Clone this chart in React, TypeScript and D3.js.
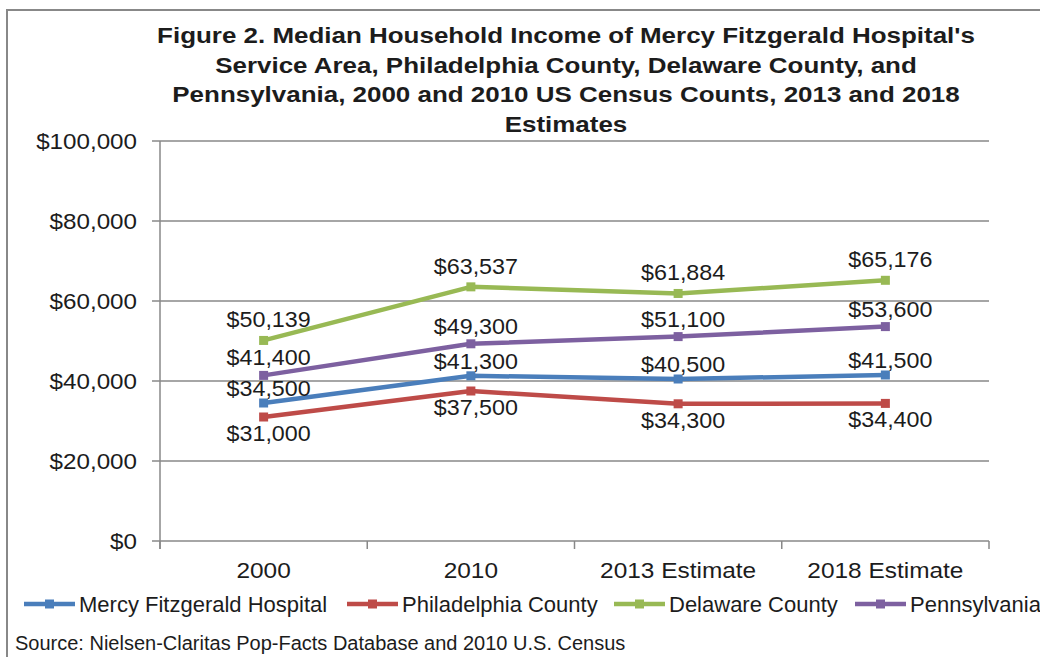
import React, { useEffect } from "react";
import * as d3 from "d3";

const categories = ["2000", "2010", "2013 Estimate", "2018 Estimate"];
const seriesNames = ["Mercy Fitzgerald Hospital", "Philadelphia County", "Delaware County", "Pennsylvania"];
const mercyValues = [34500, 41300, 40500, 41500];
const philadelphiaValues = [31000, 37500, 34300, 34400];
const delawareValues = [50139, 63537, 61884, 65176];
const pennsylvaniaValues = [41400, 49300, 51100, 53600];
const yTicks = [0, 20000, 40000, 60000, 80000, 100000];
const titleLines = [
  "Figure 2. Median Household Income of Mercy Fitzgerald Hospital's",
  "Service Area, Philadelphia County, Delaware County, and",
  "Pennsylvania, 2000 and 2010 US Census Counts, 2013 and 2018",
  "Estimates",
];
const sourceText = "Source: Nielsen-Claritas Pop-Facts Database and 2010 U.S. Census";

const W = 1040;
const H = 657;
const font = "'Liberation Sans', Arial, sans-serif";
const textColor = "#1c1c1c";
const gridColor = "#888888";

// label offsets: above the point for most, below for Philadelphia
const series = [
  { name: seriesNames[0], values: mercyValues, color: "#4a7ebb", dy: -7 },
  { name: seriesNames[1], values: philadelphiaValues, color: "#be4b48", dy: 24 },
  { name: seriesNames[2], values: delawareValues, color: "#98b954", dy: -13 },
  { name: seriesNames[3], values: pennsylvaniaValues, color: "#7d60a0", dy: -10 },
];

const legendX = [24, 347, 614, 855];

// the original export is a bit stretched sideways
const at = (x: number, y: number, sx: number) => `translate(${x},${y}) scale(${sx},1)`;

export default function App() {
  useEffect(() => {
    document.body.style.margin = "0";
  }, []);

  const x = d3.scaleBand().domain(categories).range([160, 989]).padding(0);
  const y = d3.scaleLinear().domain([0, 100000]).range([541, 141]);
  const cx = (c: string) => (x(c) as number) + x.bandwidth() / 2;
  const money = (v: number) => "$" + d3.format(",")(v);
  const line = d3
    .line<number>()
    .x((_, i) => cx(categories[i]))
    .y((v) => y(v));

  const boundaries = categories.map((c) => x(c) as number).concat([989]);

  return (
    <svg width={W} height={H} style={{ position: "fixed", left: 0, top: 0, background: "#fff" }}>
      <rect x={7} y={10} width={W + 10} height={H + 10} fill="#fff" stroke={gridColor} strokeWidth={2} />

      <g fontFamily={font} fontWeight="bold" fontSize={22} fill={textColor} textAnchor="middle">
        {titleLines.map((t, i) => (
          <text key={i} transform={at(566, 43 + i * 29.6, 1.18)}>
            {t}
          </text>
        ))}
      </g>

      {/* gridlines + y labels */}
      <g>
        {yTicks.map((t) => (
          <g key={t}>
            <line x1={152} x2={989} y1={y(t)} y2={y(t)} stroke={gridColor} strokeWidth={1.5} />
            <text
              transform={at(137, y(t) + 7.5, 1.1)}
              textAnchor="end"
              fontFamily={font}
              fontSize={22}
              fill={textColor}
            >
              {money(t)}
            </text>
          </g>
        ))}
        <line x1={160} x2={160} y1={141} y2={549} stroke={gridColor} strokeWidth={1.5} />
        {boundaries.map((b, i) => (
          <line key={i} x1={b} x2={b} y1={541} y2={549} stroke={gridColor} strokeWidth={1.5} />
        ))}
        {categories.map((c) => (
          <text
            key={c}
            transform={at(cx(c), 578, 1.11)}
            textAnchor="middle"
            fontFamily={font}
            fontSize={22}
            fill={textColor}
          >
            {c}
          </text>
        ))}
      </g>

      {/* series lines */}
      {[2, 3, 0, 1].map((k) => {
        const s = series[k];
        return (
          <g key={s.name}>
            <path d={line(s.values) || ""} fill="none" stroke={s.color} strokeWidth={4.5} strokeLinejoin="round" />
            {s.values.map((v, i) => (
              <rect key={i} x={cx(categories[i]) - 4.5} y={y(v) - 4.5} width={9} height={9} fill={s.color} />
            ))}
          </g>
        );
      })}

      {/* data labels */}
      {series.map((s) => (
        <g key={s.name + "-lbl"}>
          {s.values.map((v, i) => (
            <text
              key={i}
              transform={at(cx(categories[i]) + 5, y(v) + s.dy, 1.06)}
              textAnchor="middle"
              fontFamily={font}
              fontSize={22}
              fill={textColor}
            >
              {money(v)}
            </text>
          ))}
        </g>
      ))}

      {/* legend */}
      {series.map((s, i) => (
        <g key={s.name + "-leg"}>
          <line x1={legendX[i]} x2={legendX[i] + 51} y1={604} y2={604} stroke={s.color} strokeWidth={4.5} />
          <rect x={legendX[i] + 21} y={599.5} width={9} height={9} fill={s.color} />
          <text x={legendX[i] + 55} y={612} fontFamily={font} fontSize={22} fill={textColor}>
            {s.name}
          </text>
        </g>
      ))}

      <text x={15} y={650} fontFamily={font} fontSize={20} fill={textColor}>
        {sourceText}
      </text>
    </svg>
  );
}
